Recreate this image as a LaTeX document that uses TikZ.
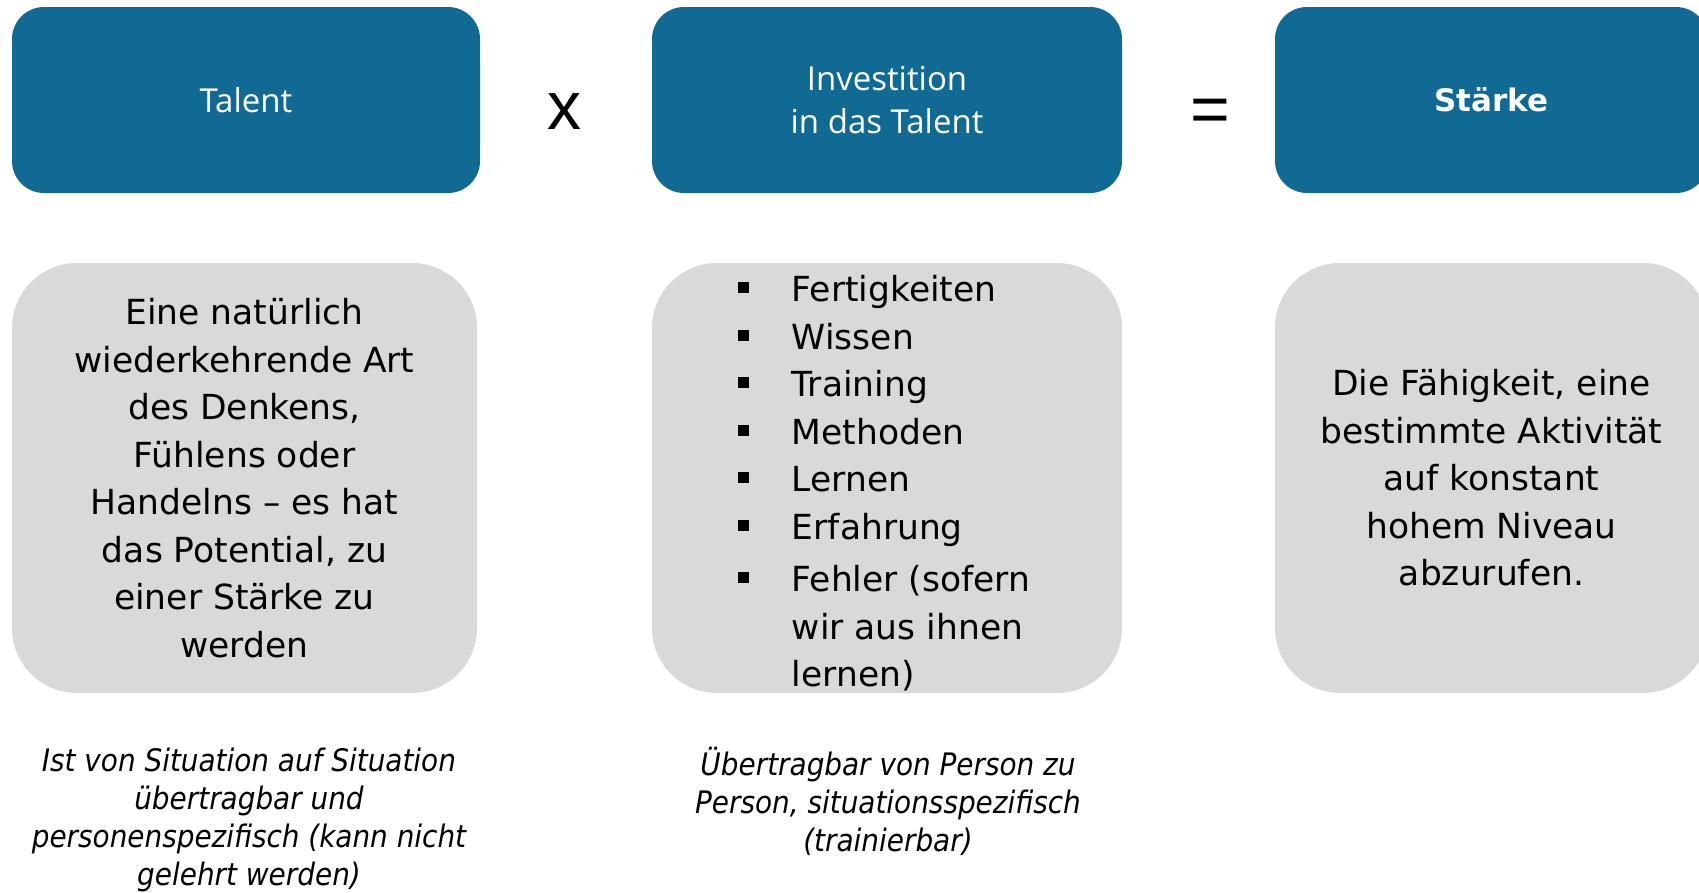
\documentclass[tikz,border=0pt]{standalone}
\usepackage{fontspec}
\setmainfont{DejaVu Sans}
\newfontfamily\headfont{Open Sans}
\newfontfamily\notefont{DejaVuSansCondensed-Oblique.ttf}
\newfontfamily\signfont{Liberation Sans}
\usepackage{tikz}
\usetikzlibrary{positioning}
\definecolor{myblue}{RGB}{16,106,148}
\definecolor{mygray}{RGB}{217,217,217}
\tikzstyle{mybox}=[rectangle, inner sep=0pt, align=center]
\tikzstyle{header}=[mybox, fill=myblue, text=white, rounded corners=32, minimum height=186, font=\headfont\fontsize{33}{43}\selectfont]
\tikzstyle{content}=[mybox, fill=mygray, rounded corners=65, minimum height=430, font=\fontsize{34.5}{47.5}\selectfont]
\tikzstyle{sign}=[inner sep=0pt, font=\signfont\fontsize{68}{70}\selectfont]
\tikzstyle{note}=[align=center, inner sep=0pt, font=\notefont\fontsize{31}{38}\selectfont]
\tikzstyle{bullet}=[fill=black, inner sep=0pt, minimum size=11]
\tikzstyle{item}=[anchor=base west, inner sep=0pt, align=left, font=\fontsize{34.5}{47.5}\selectfont]

\begin{document}
\begin{tikzpicture}[x=1pt, y=-1pt]
\useasboundingbox (0,0) rectangle (1699,892);

% top row
\node[header, minimum width=468] (talent) at (246,100) {Talent};
\node[header, minimum width=470] (invest) at (887,100) {Investition\\in das Talent};
\node[header, minimum width=433, font=\bfseries\fontsize{31}{40}\selectfont] (staerke) at (1491.5,100) {Stärke};

\node[sign] (times) at (564,112) {x};
\node[sign] (equals) at (1210,116) {=};

% grey boxes
\node[content, minimum width=465] (talentdef) at (244.5,478) {Eine natürlich\\wiederkehrende Art\\des Denkens,\\Fühlens oder\\Handelns -- es hat\\das Potential, zu\\einer Stärke zu\\werden};
\node[content, minimum width=470] (investdef) at (887,478) {};
\node[content, minimum width=433] (staerkedef) at (1491.5,478) {Die Fähigkeit, eine\\bestimmte Aktivität\\auf konstant\\hohem Niveau\\abzurufen.};

\foreach \txt [count=\i] in {Fertigkeiten, Wissen, Training, Methoden, Lernen, Erfahrung}{
    \node[bullet] (dot\i) at (743, 287.5+47.5*\i-47.5) {};
    \node[item] (item\i) at (791.7, 301.7+47.5*\i-47.5) {\txt};
}
\node[bullet] (dot7) at (743, 577.5) {};
% base of a multi-line node is its last line
\node[item] (item7) at (791.7, 686.7) {Fehler (sofern\\wir aus ihnen\\lernen)};

% notes below
\node[note] (talentnote) at (249,820) {Ist von Situation auf Situation\\übertragbar und\\personenspezifisch (kann nicht\\gelehrt werden)};
\node[note] (investnote) at (888,801) {Übertragbar von Person zu\\Person, situationsspezifisch\\(trainierbar)};

\end{tikzpicture}
\end{document}
